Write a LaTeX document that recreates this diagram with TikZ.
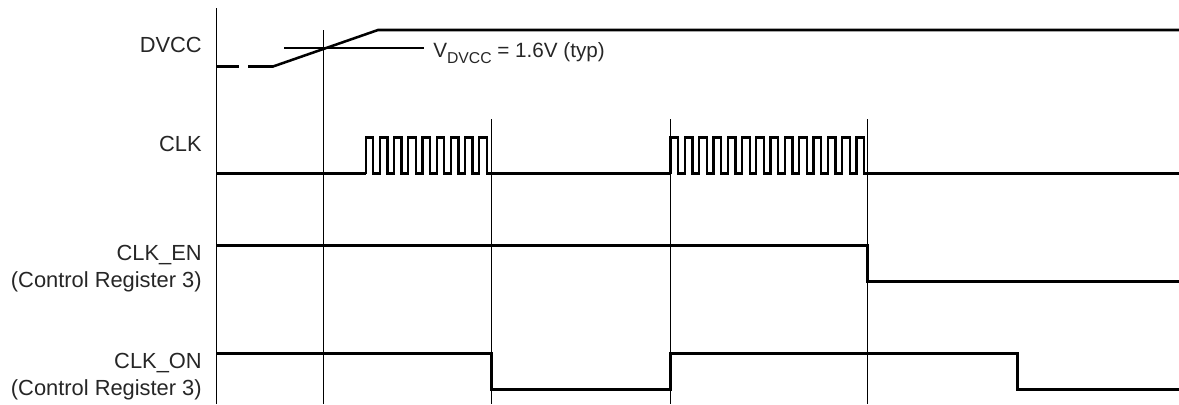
\documentclass[tikz,border=0pt]{standalone}
\usepackage{fontspec}
\setmainfont{Liberation Sans}
\tikzset{
  guide/.style={line width=1.1pt,black},
  wave/.style={line width=1.9pt,black,line cap=butt,line join=miter},
  pulse/.style={line width=1.7pt,black,line join=miter},
  lab/.style={anchor=base east,inner sep=0pt,font=\fontsize{16.4pt}{18pt}\selectfont,text=black!85},
  note/.style={anchor=base west,inner sep=0pt,font=\fontsize{15.5pt}{18pt}\selectfont,text=black!85}
}
\begin{document}
\begin{tikzpicture}[x=0.75pt,y=-0.75pt]
\useasboundingbox (0,0) rectangle (1179,404);
% guides
\draw[guide] (216.5,8) -- (216.5,404);
\draw[guide] (323.5,30) -- (323.5,404);
\draw[guide] (491.5,119) -- (491.5,404);
\draw[guide] (670.5,119) -- (670.5,404);
\draw[guide] (867.5,119) -- (867.5,404);
\draw[guide] (284,48) -- (424,48);
% DVCC
\draw[wave] (217,66.5) -- (239,66.5);
\draw[wave] (248,66.5) -- (273,66.5) -- (378,30) -- (1179,30);
% CLK
\draw[wave] (217,173.5) -- (365.7,173.5);
\draw[pulse] (365.7,173.5)
  foreach \i in {0,...,8} { -- ++(0,-36) -- ++(7.5,0) -- ++(0,36) -- ++(6.7,0) }
  ;
\draw[wave] (490,173.5) -- (670.5,173.5);
\draw[pulse] (670.5,173.5)
  foreach \i in {0,...,13} { -- ++(0,-36) -- ++(7.7,0) -- ++(0,36) -- ++(6.6,0) }
  ;
\draw[wave] (865,173.5) -- (1179,173.5);
% CLK_EN
\draw[wave] (216.5,245.3) -- (867.5,245.3) -- (867.5,281.7) -- (1179,281.7);
% CLK_ON
\draw[wave] (216.5,353.3) -- (491.5,353.3) -- (491.5,389.3) -- (670.5,389.3) -- (670.5,353.3) -- (1017.5,353.3) -- (1017.5,389.3) -- (1179,389.3);
% labels
\node[lab] (dvcc) at (202,52) {DVCC};
\node[lab] (clk) at (202,151) {CLK};
\node[lab] (clken) at (202,260) {CLK\_EN};
\node[lab] (clkenr) at (202,287) {(Control Register 3)};
\node[lab] (clkon) at (202,368) {CLK\_ON};
\node[lab] (clkonr) at (202,395) {(Control Register 3)};
\node[note] (vdvcc) at (433,57) {V\raisebox{-4.5pt}{\fontsize{11.8pt}{14pt}\selectfont DVCC} = 1.6V (typ)};
\end{tikzpicture}
\end{document}
